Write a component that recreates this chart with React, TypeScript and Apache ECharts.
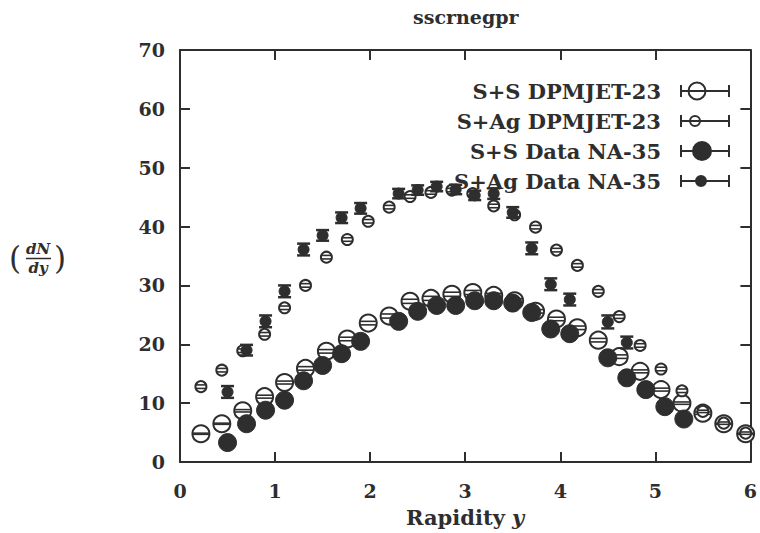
import { useEffect, useRef } from "react";
import * as echarts from "echarts";

const INK = "#2e2e2e";
const FONT = "DejaVu Serif";

// x ticks / y ticks
const xTickValues = [0, 1, 2, 3, 4, 5, 6];
const yTickValues = [0, 10, 20, 30, 40, 50, 60, 70];

// DPMJET-23 rapidity bins
const dpmX = [0.22, 0.44, 0.66, 0.89, 1.1, 1.32, 1.54, 1.76, 1.98, 2.2, 2.42, 2.64, 2.86, 3.08, 3.3, 3.52, 3.74, 3.96, 4.18, 4.4, 4.62, 4.84, 5.06, 5.28, 5.5, 5.72, 5.95];
const ssDpmY = [4.8, 6.5, 8.7, 11.1, 13.5, 15.9, 18.8, 20.9, 23.6, 24.8, 27.3, 27.8, 28.5, 28.8, 28.3, 27.4, 25.6, 24.3, 22.8, 20.7, 17.9, 15.4, 12.3, 10.0, 8.3, 6.5, 4.8];
const ssDpmErr = [0.1, 0.1, 0.2, 0.25, 0.25, 0.3, 0.3, 0.3, 0.3, 0.35, 0.35, 0.35, 0.35, 0.35, 0.35, 0.35, 0.3, 0.3, 0.3, 0.3, 0.3, 0.25, 0.25, 0.2, 0.2, 0.1, 0.1];
const sagDpmY = [12.8, 15.6, 18.9, 21.7, 26.2, 30.0, 34.8, 37.8, 40.9, 43.3, 45.1, 45.8, 46.2, 45.6, 43.5, 42.0, 39.9, 36.0, 33.4, 29.0, 24.7, 19.8, 15.8, 12.1, 8.6, 6.6, 4.9];
const sagDpmErr = [0.3, 0.3, 0.3, 0.3, 0.3, 0.3, 0.3, 0.3, 0.3, 0.3, 0.3, 0.3, 0.3, 0.3, 0.3, 0.3, 0.3, 0.3, 0.3, 0.3, 0.3, 0.3, 0.3, 0.3, 0.2, 0.2, 0.2];

// NA-35 data
const ssDataX = [0.5, 0.7, 0.9, 1.1, 1.3, 1.5, 1.7, 1.9, 2.3, 2.5, 2.7, 2.9, 3.1, 3.3, 3.5, 3.7, 3.9, 4.1, 4.5, 4.7, 4.9, 5.1, 5.3];
const ssDataY = [3.3, 6.5, 8.8, 10.5, 13.8, 16.4, 18.4, 20.5, 23.9, 25.6, 26.6, 26.6, 27.4, 27.4, 27.0, 25.4, 22.6, 21.8, 17.7, 14.3, 12.3, 9.4, 7.3];
const sagDataX = [0.5, 0.7, 0.9, 1.1, 1.3, 1.5, 1.7, 1.9, 2.3, 2.5, 2.7, 2.9, 3.1, 3.3, 3.5, 3.7, 3.9, 4.1, 4.5, 4.7];
const sagDataY = [11.9, 19.0, 23.9, 29.0, 36.1, 38.5, 41.5, 43.1, 45.6, 46.2, 46.8, 46.3, 45.3, 45.6, 42.4, 36.3, 30.2, 27.6, 23.8, 20.3];
const sagDataErr = [1.0, 0.9, 1.0, 1.0, 1.0, 0.9, 0.9, 0.9, 0.8, 0.8, 0.8, 0.8, 0.8, 0.9, 0.9, 1.0, 1.0, 1.0, 1.1, 1.0];

const seriesNames = ["S+S DPMJET-23", "S+Ag DPMJET-23", "S+S Data NA-35", "S+Ag Data NA-35"];

const circlePath = (cx: number, r: number) =>
  `M${cx + r},10 A${r},${r} 0 1,1 ${cx - r},10 A${r},${r} 0 1,1 ${cx + r},10 Z`;
const legendIcon = (cx: number, r: number) =>
  `path://M0,0 M64,20 M15,4 L15,16 M15,10 L63,10 M63,4 L63,16 ${circlePath(cx, r)}`;

function openRenderer(r: number) {
  return (params: any, api: any) => {
    const x = api.value(0);
    const y = api.value(1);
    const e = api.value(2);
    const c = api.coord([x, y]);
    const hi = api.coord([x, y + e])[1];
    const lo = api.coord([x, y - e])[1];
    const w = r - 0.5;
    const children: any[] = [
      { type: "circle", shape: { cx: c[0], cy: c[1], r }, style: { fill: "#fff", stroke: INK, lineWidth: 2 } },
      { type: "line", shape: { x1: c[0] - w, y1: hi, x2: c[0] + w, y2: hi }, style: { stroke: INK, lineWidth: 1.6 } },
      { type: "line", shape: { x1: c[0] - w, y1: lo, x2: c[0] + w, y2: lo }, style: { stroke: INK, lineWidth: 1.6 } },
    ];
    return { type: "group", children };
  };
}

function filledRenderer(r: number, cap: number) {
  return (params: any, api: any) => {
    const x = api.value(0);
    const y = api.value(1);
    const e = api.value(2);
    const c = api.coord([x, y]);
    const hi = api.coord([x, y + e])[1];
    const lo = api.coord([x, y - e])[1];
    const children: any[] = [];
    if (cap > 0) {
      children.push(
        { type: "line", shape: { x1: c[0], y1: hi, x2: c[0], y2: lo }, style: { stroke: INK, lineWidth: 2 } },
        { type: "line", shape: { x1: c[0] - cap, y1: hi, x2: c[0] + cap, y2: hi }, style: { stroke: INK, lineWidth: 2.5 } },
        { type: "line", shape: { x1: c[0] - cap, y1: lo, x2: c[0] + cap, y2: lo }, style: { stroke: INK, lineWidth: 2.5 } }
      );
    }
    children.push({ type: "circle", shape: { cx: c[0], cy: c[1], r }, style: { fill: INK, stroke: INK, lineWidth: 1 } });
    return { type: "group", children };
  };
}

export default function App() {
  const ref = useRef<HTMLDivElement>(null);
  useEffect(() => {
    if (!ref.current) return;
    const chart = echarts.init(ref.current, undefined, { renderer: "svg" });
    const axisLine = { show: true, onZero: false, lineStyle: { color: INK, width: 2 } };
    const axisTick = { show: true, inside: true, length: 10, lineStyle: { color: INK, width: 2 } };
    const labelStyle = { fontFamily: FONT, fontWeight: "bold" as const, fontSize: 19, color: INK };
    chart.setOption({
      animation: false,
      backgroundColor: "#fff",
      title: {
        text: "sscrnegpr",
        left: 413,
        top: 7,
        padding: 0,
        textStyle: { fontFamily: FONT, fontWeight: "bold", fontSize: 19, color: INK },
      },
      legend: {
        orient: "vertical",
        right: 29,
        top: 80,
        padding: 0,
        align: "right",
        itemWidth: 64,
        itemHeight: 20,
        itemGap: 8,
        selectedMode: false,
        textStyle: { fontFamily: FONT, fontWeight: "bold", fontSize: 21, color: INK },
        data: [
          { name: seriesNames[0], icon: legendIcon(31, 8.5), itemStyle: { color: "#fff", borderColor: INK, borderWidth: 2 } },
          { name: seriesNames[1], icon: legendIcon(29, 5), itemStyle: { color: "#fff", borderColor: INK, borderWidth: 2 } },
          { name: seriesNames[2], icon: legendIcon(36, 9), itemStyle: { color: INK, borderColor: INK, borderWidth: 2 } },
          { name: seriesNames[3], icon: legendIcon(35, 5), itemStyle: { color: INK, borderColor: INK, borderWidth: 2 } },
        ],
      },
      grid: { left: 180, right: 4, top: 50, bottom: 71 },
      xAxis: [
        {
          type: "value",
          min: xTickValues[0],
          max: xTickValues[xTickValues.length - 1],
          interval: 1,
          position: "bottom",
          axisLine,
          axisTick,
          splitLine: { show: false },
          axisLabel: { ...labelStyle, margin: 19 },
          name: "Rapidity {i|y}",
          nameLocation: "middle",
          nameGap: 45,
          nameTextStyle: {
            fontFamily: FONT,
            fontWeight: "bold",
            fontSize: 21,
            color: INK,
            rich: { i: { fontFamily: FONT, fontWeight: "bold", fontStyle: "italic", fontSize: 21, color: INK } },
          },
        },
        {
          type: "value",
          min: xTickValues[0],
          max: xTickValues[xTickValues.length - 1],
          interval: 1,
          position: "top",
          axisLine,
          axisTick,
          splitLine: { show: false },
          axisLabel: { show: false },
        },
      ],
      yAxis: [
        {
          type: "value",
          min: yTickValues[0],
          max: yTickValues[yTickValues.length - 1],
          interval: 10,
          position: "left",
          axisLine,
          axisTick,
          splitLine: { show: false },
          axisLabel: { ...labelStyle, margin: 15 },
        },
        {
          type: "value",
          min: yTickValues[0],
          max: yTickValues[yTickValues.length - 1],
          interval: 10,
          position: "right",
          axisLine,
          axisTick,
          splitLine: { show: false },
          axisLabel: { show: false },
        },
      ],
      graphic: [
        {
          type: "group",
          children: [
            { type: "text", x: 9, y: 258, style: { text: "(", font: `31px "${FONT}"`, fill: INK, verticalAlign: "middle" } },
            { type: "text", x: 38, y: 249, style: { text: "dN", font: `italic bold 15px "${FONT}"`, fill: INK, align: "center", verticalAlign: "middle" } },
            { type: "line", shape: { x1: 26, y1: 258.5, x2: 51, y2: 258.5 }, style: { stroke: INK, lineWidth: 1.5 } },
            { type: "text", x: 38, y: 268, style: { text: "dy", font: `italic bold 15px "${FONT}"`, fill: INK, align: "center", verticalAlign: "middle" } },
            { type: "text", x: 54, y: 258, style: { text: ")", font: `31px "${FONT}"`, fill: INK, verticalAlign: "middle" } },
          ],
        },
      ],
      series: [
        {
          name: seriesNames[0],
          type: "custom",
          renderItem: openRenderer(8.5),
          encode: { x: 0, y: 1 },
          data: dpmX.map((x, i) => [x, ssDpmY[i], ssDpmErr[i]]),
          z: 2,
        },
        {
          name: seriesNames[1],
          type: "custom",
          renderItem: openRenderer(5.5),
          encode: { x: 0, y: 1 },
          data: dpmX.map((x, i) => [x, sagDpmY[i], sagDpmErr[i]]),
          z: 3,
        },
        {
          name: seriesNames[2],
          type: "custom",
          renderItem: filledRenderer(9, 0),
          encode: { x: 0, y: 1 },
          data: ssDataX.map((x, i) => [x, ssDataY[i], 0]),
          z: 4,
        },
        {
          name: seriesNames[3],
          type: "custom",
          renderItem: filledRenderer(5.5, 6.5),
          encode: { x: 0, y: 1 },
          data: sagDataX.map((x, i) => [x, sagDataY[i], sagDataErr[i]]),
          z: 5,
        },
      ],
    });
    return () => chart.dispose();
  }, []);
  return <div ref={ref} style={{ width: 760, height: 533, position: "absolute", left: 0, top: 0 }} />;
}
